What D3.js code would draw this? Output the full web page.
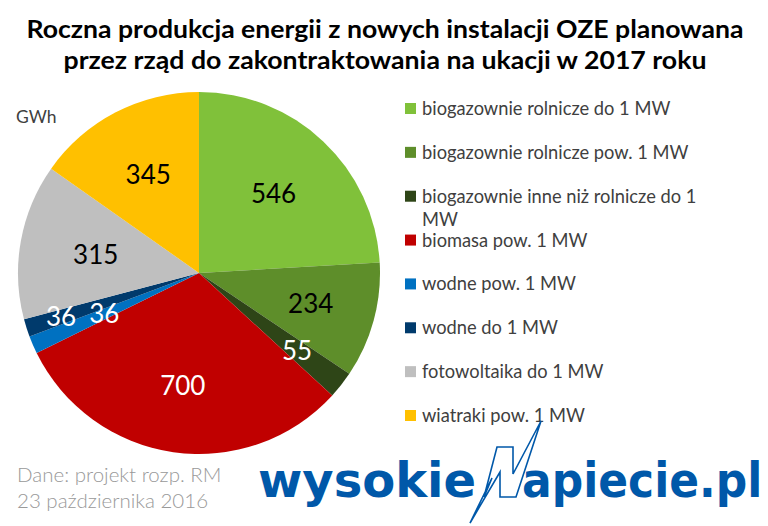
<!DOCTYPE html>
<html>
<head>
<meta charset="utf-8">
<script src="https://cdn.jsdelivr.net/npm/d3@7"></script>
<style>
  html, body { margin: 0; padding: 0; background: #fff; }
  svg { display: block; }
</style>
</head>
<body>
<svg id="chart" width="768" height="526"></svg>
<script>
// ---- data ----
const categories = [
  "biogazownie rolnicze do 1 MW",
  "biogazownie rolnicze pow. 1 MW",
  "biogazownie inne niż rolnicze do 1 MW",
  "biomasa pow. 1 MW",
  "wodne pow. 1 MW",
  "wodne do 1 MW",
  "fotowoltaika do 1 MW",
  "wiatraki pow. 1 MW"
];
const values = [546, 234, 55, 700, 36, 36, 315, 345];
const titleLines = [
  "Roczna produkcja energii z nowych instalacji  OZE planowana",
  "przez rząd do zakontraktowania na ukacji w 2017 roku"
];
const unitLabel = "GWh";
const sourceLines = ["Dane: projekt rozp. RM", "23 października 2016"];

// ---- styles ----
const colors = ["#80C13A", "#5E8E2A", "#2E4517", "#C00000", "#0071C1", "#003A6C", "#BFBFBF", "#FFC000"];
const labelColors = ["#000", "#000", "#fff", "#fff", "#fff", "#fff", "#000", "#000"];
const labelRadiusFactor = [0.6, 0.64, 0.69, 0.63, 0.57, 0.8, 0.58, 0.61];
const legendLines = [
  ["biogazownie rolnicze do 1 MW"],
  ["biogazownie rolnicze pow. 1 MW"],
  ["biogazownie inne niż rolnicze do 1", "MW"],
  ["biomasa pow. 1 MW"],
  ["wodne pow. 1 MW"],
  ["wodne do 1 MW"],
  ["fotowoltaika do 1 MW"],
  ["wiatraki pow. 1 MW"]
];

const svg = d3.select("#chart");
const font = "Lato, 'Open Sans', sans-serif";

// Title
svg.selectAll("text.title").data(titleLines).join("text")
  .attr("class", "title")
  .attr("x", 385)
  .attr("y", (d, i) => 38 + i * 31)
  .attr("text-anchor", "middle")
  .attr("font-family", font)
  .attr("font-weight", "bold")
  .attr("font-size", 24)
  .attr("fill", "#000")
  .attr("textLength", (d, i) => i === 0 ? 717 : 643)
  .attr("lengthAdjust", "spacingAndGlyphs")
  .text(d => d);

// Pie
const cx = 199, cy = 273, R = 181;
const pie = d3.pie().sort(null).value(d => d);
const arcs = pie(values);
const arc = d3.arc().innerRadius(0).outerRadius(R);
const g = svg.append("g").attr("transform", `translate(${cx},${cy})`);
g.selectAll("path").data(arcs).join("path")
  .attr("d", arc)
  .attr("fill", (d, i) => colors[i]);

g.selectAll("text.lbl").data(arcs).join("text")
  .attr("class", "lbl")
  .attr("transform", (d, i) => {
    const a = d3.arc().innerRadius(R * labelRadiusFactor[i]).outerRadius(R * labelRadiusFactor[i]);
    const [x, y] = a.centroid(d);
    return `translate(${x},${y})`;
  })
  .attr("text-anchor", "middle")
  .attr("dy", "0.36em")
  .attr("font-family", font)
  .attr("font-size", 26)
  .attr("fill", (d, i) => labelColors[i])
  .text(d => d.data);

// Unit
svg.append("text")
  .attr("x", 16).attr("y", 123)
  .attr("font-family", font).attr("font-size", 17.5)
  .attr("fill", "#404040")
  .text(unitLabel);

// Legend
const legendY = d3.scalePoint().domain(d3.range(categories.length)).range([115, 422]);
const lg = svg.append("g");
const items = lg.selectAll("g").data(categories).join("g")
  .attr("transform", (d, i) => `translate(405,${legendY(i)})`);
items.append("rect")
  .attr("x", 0).attr("y", -12).attr("width", 11).attr("height", 11)
  .attr("fill", (d, i) => colors[i]);
items.each(function (d, i) {
  d3.select(this).selectAll("text").data(legendLines[i]).join("text")
    .attr("x", 17)
    .attr("y", (t, j) => j * 23)
    .attr("font-family", font)
    .attr("font-size", 18.3)
    .attr("fill", "#404040")
    .text(t => t);
});

// Source
svg.selectAll("text.src").data(sourceLines).join("text")
  .attr("class", "src")
  .attr("x", 17)
  .attr("y", (d, i) => 482 + i * 26)
  .attr("font-family", font)
  .attr("font-weight", 300)
  .attr("font-size", 20.5)
  .attr("fill", "#999999")
  .text(d => d);

// Logo
const blue = "#0058A9";
svg.append("text")
  .attr("transform", "translate(258,497) scale(1,1.0)")
  .attr("font-family", "'DejaVu Sans', sans-serif")
  .attr("font-weight", "bold").attr("font-size", 48)
  .attr("fill", blue)
  .text("wysokie");
svg.append("text")
  .attr("transform", "translate(522,497) scale(1,1.09)")
  .attr("font-family", "'DejaVu Sans', sans-serif")
  .attr("font-weight", "bold").attr("font-size", 44)
  .attr("fill", blue)
  .text("apiecie.pl");
svg.append("path")
  .attr("d", "M470,523 L492,478 L484,497 L497,447 L513,447 L513,474 L541,421 L516,497 L500,497 L500,472 Z")
  .attr("fill", "none")
  .attr("stroke", blue)
  .attr("stroke-width", 1.6)
  .attr("stroke-linejoin", "miter");
</script>
</body>
</html>
